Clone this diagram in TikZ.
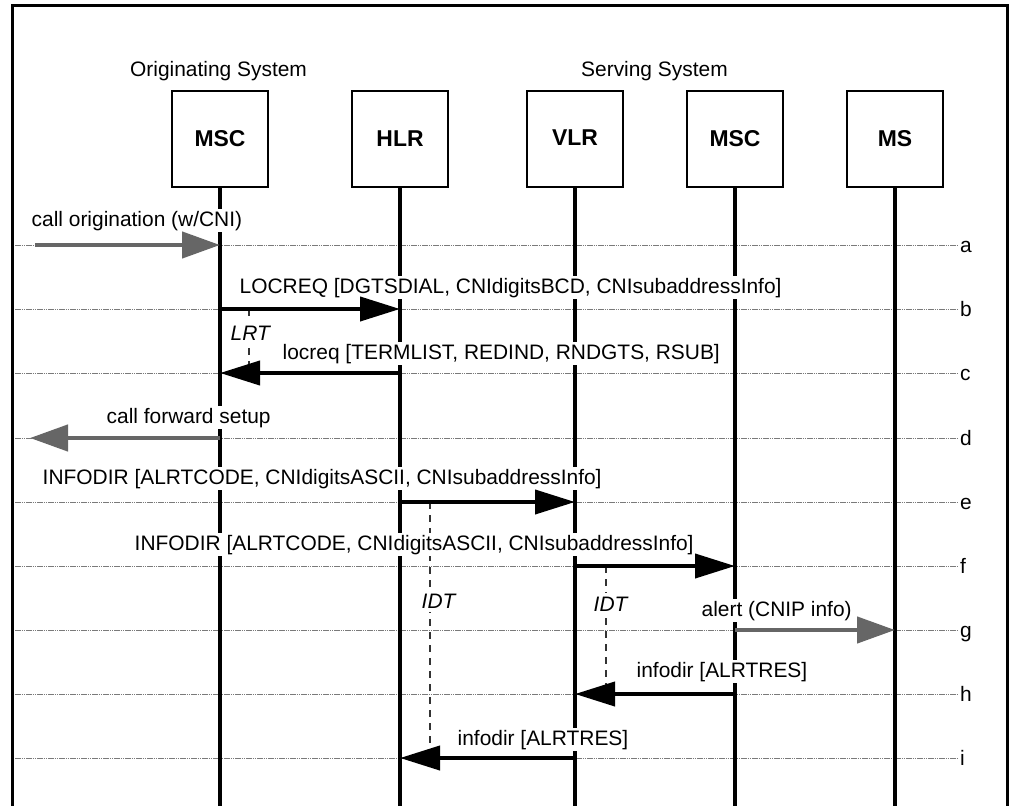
\documentclass[tikz,border=0pt]{standalone}
\usepackage{fontspec}
\setmainfont{Liberation Sans}
\usetikzlibrary{arrows.meta}
\definecolor{msggray}{HTML}{666666}
\definecolor{rowgray}{HTML}{7A7A7A}
\begin{document}
\begin{tikzpicture}[x=1bp,y=-1bp,
  frame/.style={line width=3bp},
  entity/.style={draw,line width=2.2bp,minimum width=96bp,minimum height=96bp,inner sep=0pt,font=\fontsize{23}{27}\selectfont\bfseries},
  life/.style={line width=3.3bp},
  rowline/.style={rowgray,line width=1bp,dash pattern=on 1.5bp off 0.7bp},
  rowtag/.style={anchor=base west,inner sep=0pt,font=\fontsize{21}{25}\selectfont},
  msg/.style={anchor=base west,fill=white,inner sep=1.5bp,font=\fontsize{21}{25}\selectfont},
  timer/.style={black!80,line width=2.4bp,dash pattern=on 7bp off 6bp},
  timerlabel/.style={anchor=base west,fill=white,inner xsep=1.5bp,inner ysep=4bp,font=\fontsize{21}{25}\selectfont\itshape},
  blackarrow/.style={line width=4bp,-{Triangle[length=40bp,width=24bp]}},
  grayarrow/.style={msggray,line width=4.5bp,-{Triangle[length=38bp,width=26bp]}},
  title/.style={anchor=base west,inner sep=0pt,font=\fontsize{21}{25}\selectfont}
]
\useasboundingbox (0,0) rectangle (1013,806);

% frame
\draw[frame] (12,806) -- (12,6) -- (1007,6) -- (1007,806);

% titles
\node[title] (origtitle) at (130,77) {Originating System};
\node[title] (servtitle) at (581,77) {Serving System};

% entities
\node[entity] (msco) at (220,139) {MSC};
\node[entity] (hlr)  at (400,139) {HLR};
\node[entity] (vlr)  at (575,139) {\raisebox{3bp}{VLR}};
\node[entity] (mscs) at (735,139) {MSC};
\node[entity] (ms)   at (895,139) {MS};
\coordinate (bottom) at (0,806);

% rows
\foreach \r/\y in {a/245,b/309,c/373,d/438,e/502,f/566,g/630,h/694,i/758}{
  \foreach \n/\x in {msco/220,hlr/400,vlr/575,mscs/735,ms/895}{
    \coordinate (\n-\r) at (\x,\y);
  }
  \coordinate (left-\r) at (15,\y);
  \coordinate (right-\r) at (958,\y);
  \node[rowtag] (tag-\r) at (960,\y+7) {\r};
  \draw[rowline] (left-\r) -- (right-\r);
}

% lifelines
\foreach \n in {msco,hlr,vlr,mscs,ms}{
  \draw[life] (\n.south) -- (\n.south |- bottom);
}

% timers
\coordinate (lrt-top) at (249,309); \coordinate (lrt-bot) at (249,373);
\coordinate (idt1-top) at (430,502); \coordinate (idt1-bot) at (430,758);
\coordinate (idt2-top) at (606,566); \coordinate (idt2-bot) at (606,694);
\draw[timer] (lrt-top) -- (lrt-bot);
\draw[timer] (idt1-top) -- (idt1-bot);
\draw[timer] (idt2-top) -- (idt2-bot);
\node[timerlabel] (lrt) at (229,340) {LRT};
\node[timerlabel] (idt1) at (420,608) {IDT};
\node[timerlabel] (idt2) at (592,611) {IDT};

% message labels
\node[msg] (la) at (30,226) {call origination (w/CNI)};
\node[msg] (lb) at (238,293) {LOCREQ [DGTSDIAL, CNIdigitsBCD, CNIsubaddressInfo]};
\node[msg] (lc) at (281,359) {locreq [TERMLIST, REDIND, RNDGTS, RSUB]};
\node[msg] (ld) at (105,423) {call forward setup};
\node[msg] (le) at (41,484) {INFODIR [ALRTCODE, CNIdigitsASCII, CNIsubaddressInfo]};
\node[msg] (lf) at (133,550) {INFODIR [ALRTCODE, CNIdigitsASCII, CNIsubaddressInfo]};
\node[msg] (lg) at (700,616) {alert (CNIP info)};
\node[msg] (lh) at (635,677) {infodir [ALRTRES]};
\node[msg] (li) at (456,745) {infodir [ALRTRES]};

% free ends
\coordinate (env-a) at (35,245);
\coordinate (env-d) at (30,438);

% arrows
\draw[grayarrow] (env-a) -- (msco-a);
\draw[blackarrow] (msco-b) -- (hlr-b);
\draw[blackarrow] (hlr-c) -- (msco-c);
\draw[grayarrow] (msco-d) -- (env-d);
\draw[blackarrow] (hlr-e) -- (vlr-e);
\draw[blackarrow] (vlr-f) -- (mscs-f);
\draw[grayarrow] (mscs-g) -- (ms-g);
\draw[blackarrow] (mscs-h) -- (vlr-h);
\draw[blackarrow] (vlr-i) -- (hlr-i);
\end{tikzpicture}
\end{document}
